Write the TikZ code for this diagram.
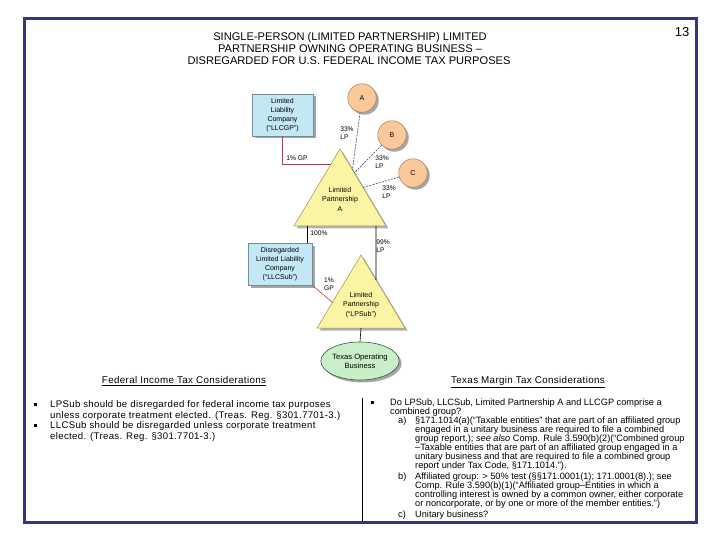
\documentclass[tikz,border=0pt]{standalone}
\usepackage{fontspec}
\setmainfont{Liberation Sans}
\newfontfamily\spacedfont[LetterSpace=3.5]{Liberation Sans}
\usetikzlibrary{shapes.geometric,shadows,calc}
\definecolor{framec}{HTML}{363680}
\definecolor{boxblue}{HTML}{C4E7F6}
\definecolor{boxbrd}{HTML}{6F8E9E}
\definecolor{circfill}{HTML}{F9C89B}
\definecolor{circbrd}{HTML}{B47A4C}
\definecolor{trifill}{HTML}{F9F5A3}
\definecolor{tribrd}{HTML}{9C9450}
\definecolor{ellfill}{HTML}{C9EFC9}
\definecolor{ellbrd}{HTML}{405040}
\definecolor{gpred}{HTML}{D03048}
\definecolor{lpblue}{HTML}{404878}
\begin{document}
\begin{tikzpicture}[x=1pt,y=-1pt,
  shd/.style={general shadow={fill=black!35, shadow xshift=2.5pt, shadow yshift=-2.5pt}},
  bluebox/.style={draw=boxbrd, fill=boxblue, line width=0.5pt, shd, minimum height=42pt,
    inner sep=0pt, align=center, font=\fontsize{7}{9}\selectfont},
  circ/.style={circle, draw=circbrd, fill=circfill, line width=0.5pt, minimum size=28.5pt,
    inner sep=0pt, font=\fontsize{7}{8}\selectfont, shd},
  ell/.style={ellipse, draw=ellbrd, fill=ellfill, line width=0.6pt, minimum width=62pt,
    minimum height=38pt, inner sep=0pt, align=center, font=\fontsize{7.6}{9}\selectfont, shd},
  tritext/.style={align=center, inner sep=0pt, font=\fontsize{7}{9.5}\selectfont},
  lbl/.style={font=\fontsize{6.7}{8}\selectfont, align=left, inner sep=0pt},
  ownln/.style={draw=black, line width=0.6pt},
  gpln/.style={draw=gpred, line width=0.6pt},
  lpln/.style={draw=lpblue, dash pattern=on 2pt off 1.2pt, line width=0.6pt},
  tri/.style={draw=tribrd, fill=trifill, line width=0.5pt},
  trishd/.style={fill=black!30},
  ttl/.style={font=\fontsize{11.1}{12}\selectfont, inner sep=0pt, anchor=base},
  hd/.style={font=\spacedfont\fontsize{9.8}{11}\selectfont, inner sep=0pt, anchor=base},
  ltxt/.style={font=\spacedfont\fontsize{9.6}{10.5}\selectfont, inner sep=0pt, anchor=base west},
  rtxt/.style={font=\fontsize{9.2}{9}\selectfont, inner sep=0pt, anchor=base west},
  bul/.style={fill=black, inner sep=0pt, minimum size=3pt}
]
\useasboundingbox (0,0) rectangle (720,540);
\fill[white] (0,0) rectangle (720,540);
\draw[framec, line width=3pt] (24.5,18.5) rectangle (696,522.5);

% title
\node[ttl] (t1) at (350,41) {SINGLE-PERSON (LIMITED PARTNERSHIP) LIMITED};
\node[ttl] (t2) at (350,53) {PARTNERSHIP OWNING OPERATING BUSINESS –};
\node[ttl] (t3) at (349,65) {DISREGARDED FOR U.S. FEDERAL INCOME TAX PURPOSES};
\node[font=\fontsize{13}{14}\selectfont, inner sep=0pt, anchor=base] (pg) at (682,36.7) {13};

% triangle A
\coordinate (aT) at (340,149);
\coordinate (aL) at (294,226);
\coordinate (aR) at (386,226);
\fill[trishd] ($(aT)+(2.5,2.5)$) -- ($(aL)+(2.5,2.5)$) -- ($(aR)+(2.5,2.5)$) -- cycle;
\draw[tri] (aT) -- (aL) -- (aR) -- cycle;
\node[tritext] (lpa) at (340,199) {Limited\\Partnership\\A};

% triangle LPSub
\coordinate (bT) at (361,255);
\coordinate (bL) at (317,328);
\coordinate (bR) at (405,328);
\fill[trishd] ($(bT)+(2.5,2.5)$) -- ($(bL)+(2.5,2.5)$) -- ($(bR)+(2.5,2.5)$) -- cycle;
\draw[tri] (bT) -- (bL) -- (bR) -- cycle;
\node[tritext] (lpsub) at (361,305) {Limited\\Partnership\\(“LPSub”)};

% boxes and circles
\node[bluebox, minimum width=61pt] (llcgp) at (282.5,115) {Limited\\Liability\\Company\\(“LLCGP”)};
\node[bluebox, minimum width=64pt] (llcsub) at (280,264) {Disregarded\\Limited Liability\\Company\\(“LLCSub”)};
\node[circ] (ca) at (362,98) {A};
\node[circ] (cb) at (392,135) {B};
\node[circ] (cc) at (413,173) {C};
\node[ell] (tob) at (360,361) {Texas Operating\\Business};

% connectors
\draw[gpln] (llcgp.south) |- ($(aT)!0.2!(aL)$);
\draw[lpln] (ca) -- ($(aT)!0.27!(aR)$);
\draw[lpln] (cb) -- ($(aT)!0.31!(aR)$);
\draw[lpln] (cc) -- ($(aT)!0.5!(aR)$);
\coordinate (b1) at (307,226);
\draw[ownln] (b1) -- (b1 |- llcsub.north);
\coordinate (b2) at (376,226);
\draw[ownln] (b2) -- ($(bT)!0.34!(bR)$);
\draw[gpln] (llcsub.south east) -- ($(bT)!0.65!(bL)$);
\draw[ownln] ($(bL)!0.5!(bR)$) -- (tob.north);

% labels
\node[lbl] (l1) at (297,158) {1\% GP};
\node[lbl] (l2) at (347,133) {33\%\\LP};
\node[lbl] (l3) at (382,162) {33\%\\LP};
\node[lbl] (l4) at (389,192) {33\%\\LP};
\node[lbl] (l5) at (319,233) {100\%};
\node[lbl] (l6) at (383,246) {99\%\\LP};
\node[lbl] (l7) at (329,284) {1\%\\GP};

% headings
\node[hd] (h1) at (184,383.5) {\underline{Federal Income Tax Considerations}};
\node[hd] (h2) at (528,383.5) {\underline{Texas Margin Tax Considerations}};

% divider
\draw[black, line width=0.8pt] (362,398) -- (362,521);

% left column
\node[bul] (bl1) at (35,404) {};
\node[bul] (bl2) at (35,425) {};
\node[ltxt] (lt1) at (50,407.5) {LPSub should be disregarded for federal income tax purposes};
\node[ltxt] (lt2) at (50,418) {unless corporate treatment elected. (Treas. Reg. §301.7701-3.)};
\node[ltxt] (lt3) at (50,428.5) {LLCSub should be disregarded unless corporate treatment};
\node[ltxt] (lt4) at (50,439) {elected. (Treas. Reg. §301.7701-3.)};

% right column
\node[bul] (br1) at (372,402) {};
\node[rtxt] (r1) at (390,405) {Do LPSub, LLCSub, Limited Partnership A and LLCGP comprise a};
\node[rtxt] (r2) at (390,414) {combined group?};
\node[rtxt] (ra) at (398,423) {a)};
\node[rtxt] (r3) at (415,423) {§171.1014(a)(“Taxable entities” that are part of an affiliated group};
\node[rtxt] (r4) at (415,432) {engaged in a unitary business are required to file a combined};
\node[rtxt] (r5) at (415,441) {group report.); \textit{see also} Comp. Rule 3.590(b)(2)(“Combined group};
\node[rtxt] (r6) at (415,450) {–Taxable entities that are part of an affiliated group engaged in a};
\node[rtxt] (r7) at (415,459) {unitary business and that are required to file a combined group};
\node[rtxt] (r8) at (415,468) {report under Tax Code, §171.1014.”).};
\node[rtxt] (rb) at (398,479) {b)};
\node[rtxt] (r9) at (415,479) {Affiliated group: > 50\% test (§§171.0001(1); 171.0001(8).); see};
\node[rtxt] (r10) at (415,488) {Comp. Rule 3.590(b)(1)(“Affiliated group–Entities in which a};
\node[rtxt] (r11) at (415,497) {controlling interest is owned by a common owner, either corporate};
\node[rtxt] (r12) at (415,506) {or noncorporate, or by one or more of the member entities.”)};
\node[rtxt] (rc) at (398,517) {c)};
\node[rtxt] (r13) at (415,517) {Unitary business?};
\end{tikzpicture}
\end{document}
